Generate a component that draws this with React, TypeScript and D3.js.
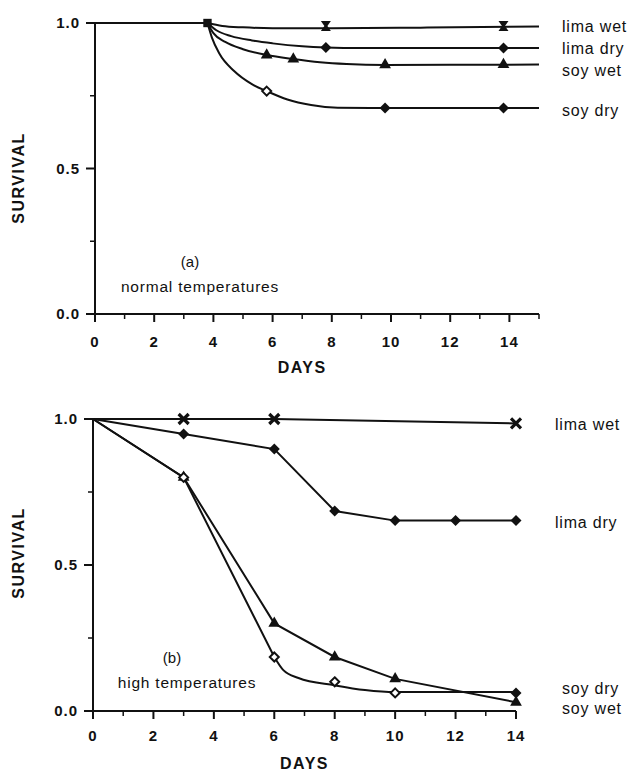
import React from "react";
import * as d3 from "d3";

type P = [number, number];

// ---------- Panel (a): normal temperatures ----------
const aShared: P[] = [[0, 1.0], [3.8, 1.0]];
const aLimaWetLine: P[] = [[3.8, 1.0], [4.3, 0.99], [5, 0.985], [6, 0.982], [8, 0.982], [11, 0.984], [15, 0.988]];
const aLimaDryLine: P[] = [[3.8, 1.0], [4.1, 0.975], [4.6, 0.955], [5.3, 0.94], [6, 0.93], [7, 0.92], [7.8, 0.916], [9, 0.914], [15, 0.914]];
const aSoyWetLine: P[] = [[3.8, 1.0], [4.0, 0.965], [4.4, 0.935], [5.0, 0.91], [5.8, 0.89], [6.7, 0.876], [7.6, 0.865], [8.5, 0.859], [9.8, 0.856], [15, 0.857]];
const aSoyDryLine: P[] = [[3.8, 1.0], [3.95, 0.95], [4.2, 0.895], [4.7, 0.835], [5.3, 0.79], [5.8, 0.766], [6.5, 0.737], [7.3, 0.718], [8.2, 0.709], [9.8, 0.708], [15, 0.708]];

const aStart: P[] = [[3.8, 1.0]];
const aLimaWetPts: P[] = [[7.8, 0.99], [13.8, 0.99]];
const aLimaDryPts: P[] = [[7.8, 0.916], [13.8, 0.914]];
const aSoyWetPts: P[] = [[5.8, 0.89], [6.7, 0.876], [9.8, 0.856], [13.8, 0.857]];
const aSoyDryOpen: P[] = [[5.8, 0.766]];
const aSoyDryPts: P[] = [[9.8, 0.708], [13.8, 0.708]];

// ---------- Panel (b): high temperatures ----------
const bLimaWet: P[] = [[0, 1.0], [3, 1.0], [6, 1.0], [14, 0.985]];
const bLimaDry: P[] = [[0, 1.0], [3, 0.949], [6, 0.897], [8, 0.685], [10, 0.652], [12, 0.652], [14, 0.652]];
const bSoyWet: P[] = [[0, 1.0], [3, 0.8], [6, 0.3], [8, 0.185], [10, 0.11], [14, 0.03]];
const bSoyDryStraight: P[] = [[0, 1.0], [3, 0.8], [6, 0.185]];
const bSoyDryCurve: P[] = [[6, 0.185], [6.3, 0.14], [6.8, 0.113], [8, 0.088], [9, 0.072], [10, 0.065], [14, 0.065]];

const bLimaWetPts: P[] = [[3, 1.0], [6, 1.0], [14, 0.985]];
const bLimaDryPts: P[] = [[3, 0.949], [6, 0.897], [8, 0.685], [10, 0.652], [12, 0.652], [14, 0.652]];
const bSoyWetPts: P[] = [[3, 0.8], [6, 0.3], [8, 0.185], [10, 0.11], [14, 0.03]];
const bSoyDryOpen: P[] = [[3, 0.8], [6, 0.185], [8, 0.1], [10, 0.062]];
const bSoyDryPts: P[] = [[14, 0.062]];

const xTicksA = [0, 2, 4, 6, 8, 10, 12, 14];
const xTicksB = [0, 2, 4, 6, 8, 10, 12, 14];
const yTicks = [0, 0.5, 1];
const yMinor = [0.25, 0.75];

const aLabels = [
  { text: "lima wet", y: 32 },
  { text: "lima dry", y: 54 },
  { text: "soy wet", y: 76 },
  { text: "soy dry", y: 116 },
];
const bLabels = [
  { text: "lima wet", x: 555, y: 430 },
  { text: "lima dry", x: 555, y: 528 },
  { text: "soy dry", x: 562, y: 694 },
  { text: "soy wet", x: 562, y: 714 },
];

const INK = "#111";
const FONT = "'Liberation Sans', Arial, Helvetica, sans-serif";

type Scale = d3.ScaleLinear<number, number>;

function Axes({ x, y, xMax, xTicks, labelY, daysY, survY }: { x: Scale; y: Scale; xMax: number; xTicks: number[]; labelY: number; daysY: number; survY: number }) {
  const x0 = x(0);
  const y0 = y(0);
  const minorX = d3.range(1, xMax + 1, 2);
  return (
    <g>
      <line x1={x0} x2={x0} y1={y(1)} y2={y0} stroke={INK} strokeWidth={2} />
      <line x1={x0 - 9} x2={x(xMax)} y1={y0} y2={y0} stroke={INK} strokeWidth={2} />
      {yTicks.map((t) => (
        <g key={"yt" + t}>
          <line x1={x0 - 9} x2={x0} y1={y(t)} y2={y(t)} stroke={INK} strokeWidth={2} />
          <text x={x0 - 15} y={y(t) + 5} textAnchor="end" fontFamily={FONT} fontWeight="bold" fontSize={15} letterSpacing={1} fill={INK}>
            {t.toFixed(1)}
          </text>
        </g>
      ))}
      {yMinor.map((t) => (
        <line key={"ym" + t} x1={x0 - 5} x2={x0} y1={y(t)} y2={y(t)} stroke={INK} strokeWidth={1.5} />
      ))}
      {xTicks.map((t) => (
        <g key={"xt" + t}>
          <line x1={x(t)} x2={x(t)} y1={y0} y2={y0 + 8} stroke={INK} strokeWidth={2} />
          <text x={x(t)} y={labelY} textAnchor="middle" fontFamily={FONT} fontWeight="bold" fontSize={15} letterSpacing={1} fill={INK}>
            {t}
          </text>
        </g>
      ))}
      {minorX.map((t) => (
        <line key={"xm" + t} x1={x(t)} x2={x(t)} y1={y0} y2={y0 + 5} stroke={INK} strokeWidth={1.5} />
      ))}
      <text x={(x(0) + x(14)) / 2} y={daysY} textAnchor="middle" fontFamily={FONT} fontWeight="bold" fontSize={16} letterSpacing={1.5} fill={INK}>
        DAYS
      </text>
      <text transform={`translate(24,${survY}) rotate(-90)`} textAnchor="middle" fontFamily={FONT} fontWeight="bold" fontSize={16} letterSpacing={1.5} fill={INK}>
        SURVIVAL
      </text>
    </g>
  );
}

const diamond = "M0,-5.5 L5.5,0 L0,5.5 L-5.5,0 Z";
const openDiamond = "M0,-4.5 L4.5,0 L0,4.5 L-4.5,0 Z";
const triangle = d3.symbol().type(d3.symbolTriangle).size(60)()!;
const square = d3.symbol().type(d3.symbolSquare).size(70)()!;
const hourglass = "M-5,-5 L5,-5 L1.5,0 L5,5 L-5,5 L-1.5,0 Z";
const cross = "M-5,-5 L5,5 M5,-5 L-5,5";

function Marks({ pts, x, y, kind }: { pts: P[]; x: Scale; y: Scale; kind: string }) {
  return (
    <g>
      {pts.map((p, i) => {
        const tr = `translate(${x(p[0])},${y(p[1])})`;
        if (kind === "diamond") return <path key={i} d={diamond} transform={tr} fill={INK} />;
        if (kind === "open") return <path key={i} d={openDiamond} transform={tr} fill="#fff" stroke={INK} strokeWidth={2} />;
        if (kind === "triangle") return <path key={i} d={triangle} transform={tr} fill={INK} />;
        if (kind === "square") return <path key={i} d={square} transform={tr} fill={INK} />;
        if (kind === "hourglass") return <path key={i} d={hourglass} transform={tr} fill={INK} />;
        return <path key={i} d={cross} transform={tr} stroke={INK} strokeWidth={3.2} fill="none" />;
      })}
    </g>
  );
}

export default function App() {
  const xA = d3.scaleLinear().domain([0, 15]).range([95, 539]);
  const yA = d3.scaleLinear().domain([0, 1]).range([314, 23]);
  const xB = d3.scaleLinear().domain([0, 14]).range([93, 516]);
  const yB = d3.scaleLinear().domain([0, 1]).range([711, 419]);

  const curveA = d3.line<P>().x((d) => xA(d[0])).y((d) => yA(d[1])).curve(d3.curveMonotoneX);
  const linA = d3.line<P>().x((d) => xA(d[0])).y((d) => yA(d[1]));
  const linB = d3.line<P>().x((d) => xB(d[0])).y((d) => yB(d[1]));
  const curveB = d3.line<P>().x((d) => xB(d[0])).y((d) => yB(d[1])).curve(d3.curveMonotoneX);

  const ls = { fill: "none", stroke: INK, strokeWidth: 2 };

  return (
    <svg width={631} height={772} style={{ position: "absolute", left: 0, top: 0, background: "#fff" }}>
      <rect width={631} height={772} fill="#fff" />
      {/* Panel a */}
      <Axes x={xA} y={yA} xMax={15} xTicks={xTicksA} labelY={347} daysY={373} survY={178} />
      <path d={linA(aShared)!} {...ls} />
      <path d={curveA(aLimaWetLine)!} {...ls} />
      <path d={curveA(aLimaDryLine)!} {...ls} />
      <path d={curveA(aSoyWetLine)!} {...ls} />
      <path d={curveA(aSoyDryLine)!} {...ls} />
      <Marks pts={aStart} x={xA} y={yA} kind="square" />
      <Marks pts={aLimaWetPts} x={xA} y={yA} kind="hourglass" />
      <Marks pts={aLimaDryPts} x={xA} y={yA} kind="diamond" />
      <Marks pts={aSoyWetPts} x={xA} y={yA} kind="triangle" />
      <Marks pts={aSoyDryOpen} x={xA} y={yA} kind="open" />
      <Marks pts={aSoyDryPts} x={xA} y={yA} kind="diamond" />
      {aLabels.map((l) => (
        <text key={l.text} x={562} y={l.y} fontFamily={FONT} fontSize={16} letterSpacing={0.8} fill={INK}>
          {l.text}
        </text>
      ))}
      <text x={190} y={267} textAnchor="middle" fontFamily={FONT} fontSize={15} fill={INK}>(a)</text>
      <text x={200} y={292} textAnchor="middle" fontFamily={FONT} fontSize={15.5} letterSpacing={0.8} fill={INK}>normal temperatures</text>

      {/* Panel b */}
      <Axes x={xB} y={yB} xMax={14} xTicks={xTicksB} labelY={741} daysY={769} survY={553} />
      <path d={linB(bLimaWet)!} {...ls} />
      <path d={linB(bLimaDry)!} {...ls} />
      <path d={linB(bSoyWet)!} {...ls} />
      <path d={linB(bSoyDryStraight)!} {...ls} />
      <path d={curveB(bSoyDryCurve)!} {...ls} />
      <Marks pts={bLimaWetPts} x={xB} y={yB} kind="cross" />
      <Marks pts={bLimaDryPts} x={xB} y={yB} kind="diamond" />
      <Marks pts={bSoyWetPts} x={xB} y={yB} kind="triangle" />
      <Marks pts={bSoyDryOpen} x={xB} y={yB} kind="open" />
      <Marks pts={bSoyDryPts} x={xB} y={yB} kind="diamond" />
      {bLabels.map((l) => (
        <text key={l.text} x={l.x} y={l.y} fontFamily={FONT} fontSize={16} letterSpacing={0.8} fill={INK}>
          {l.text}
        </text>
      ))}
      <text x={172} y={663} textAnchor="middle" fontFamily={FONT} fontSize={15} fill={INK}>(b)</text>
      <text x={187} y={688} textAnchor="middle" fontFamily={FONT} fontSize={15.5} letterSpacing={0.8} fill={INK}>high temperatures</text>
    </svg>
  );
}
